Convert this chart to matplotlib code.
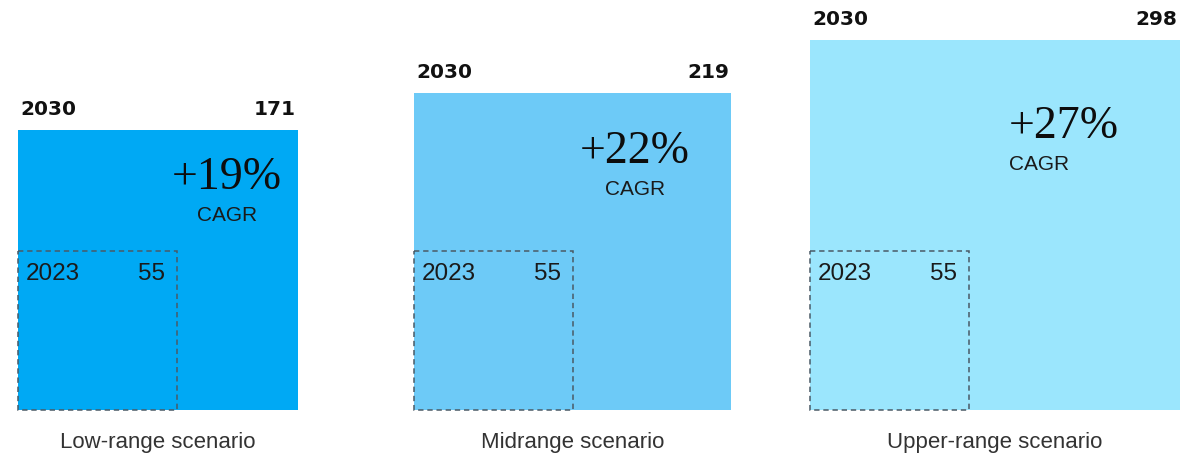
import matplotlib.pyplot as plt
from matplotlib.patches import Rectangle
import numpy as np

# Market size by scenario, square area proportional to value
scenarios = ["Low-range scenario", "Midrange scenario", "Upper-range scenario"]
value_2030 = [171, 219, 298]
value_2023 = 55
cagr = ["+19%", "+22%", "+27%"]
colors = ["#00a9f4", "#6dcaf7", "#9be6fd"]

# where the CAGR label sits inside each square (fraction of side, px below top)
cagr_fx = [0.746, 0.698, 0.686]
cagr_dy = [59, 70, 98]
cagr_sub_ha = ["center", "center", "left"]


def main():
    fig = plt.figure(figsize=(11.94, 4.55), dpi=100)
    ax = fig.add_axes([0, 0, 1, 1])
    ax.set_xlim(0, 1194)
    ax.set_ylim(455, 0)
    ax.axis("off")

    scale = 280 / np.sqrt(value_2030[0])  # px per sqrt(unit)
    base = 410
    sans = "Liberation Sans"

    for i, name in enumerate(scenarios):
        left = 18 + 396 * i
        side = scale * np.sqrt(value_2030[i])
        top = base - side
        ax.add_patch(Rectangle((left, top), side, side, color=colors[i], lw=0))

        small = scale * np.sqrt(value_2023)
        ax.add_patch(Rectangle((left, base - small), small, small, fill=False,
                               ec="#4a5a66", lw=1.1, ls=(0, (3.5, 2.5))))

        ax.text(left + 2, top - 15, "2030", fontsize=14.5, fontweight="bold",
                family="DejaVu Sans", color="#111111", va="baseline", ha="left")
        ax.text(left + side - 2, top - 15, str(value_2030[i]), fontsize=14.5,
                fontweight="bold", family="DejaVu Sans", color="#111111",
                va="baseline", ha="right")

        ax.text(left + 8, base - small + 29, "2023", fontsize=17.5, family=sans,
                color="#1a1a1a", va="baseline", ha="left")
        ax.text(left + small - 12, base - small + 29, str(value_2023), fontsize=17.5,
                family=sans, color="#1a1a1a", va="baseline", ha="right")

        cx = left + side * cagr_fx[i]
        big = ax.text(cx, top + cagr_dy[i], cagr[i], fontsize=33,
                      family="Liberation Serif", color="#0d0d0d",
                      va="baseline", ha="center")
        big.set_path_effects([])
        if cagr_sub_ha[i] == "left":
            fig.canvas.draw()
            bb = big.get_window_extent().transformed(ax.transData.inverted())
            sx = min(bb.x0, bb.x1)
        else:
            sx = cx
        ax.text(sx, top + cagr_dy[i] + 32, "CAGR", fontsize=15, family=sans,
                color="#1a1a1a", va="baseline", ha=cagr_sub_ha[i])

        ax.text(left + side / 2, 448, name, fontsize=16, family=sans,
                color="#333333", va="baseline", ha="center")

    fig.savefig("out.png", dpi=100)


if __name__ == "__main__":
    main()
